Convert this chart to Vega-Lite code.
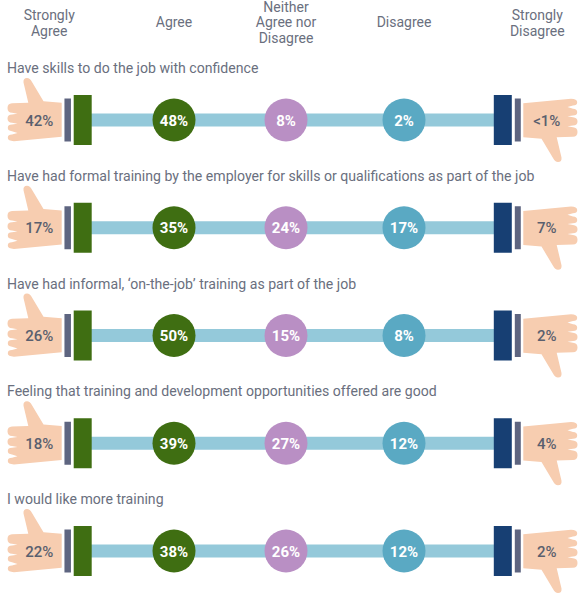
{
  "$schema": "https://vega.github.io/schema/vega-lite/v6.json",
  "width": 584, "height": 598, "padding": 0,
  "autosize": {"type": "fit", "contains": "padding"},
  "background": "#ffffff",
  "config": {"view": {"stroke": null}, "font": "Roboto"},
  "datasets": {
    "cells": [
      {"statement":"Have skills to do the job with confidence","response":"Strongly Agree","rank":1,"label":"42%"},
      {"statement":"Have skills to do the job with confidence","response":"Agree","rank":2,"label":"48%"},
      {"statement":"Have skills to do the job with confidence","response":"Neither","rank":3,"label":"8%"},
      {"statement":"Have skills to do the job with confidence","response":"Disagree","rank":4,"label":"2%"},
      {"statement":"Have skills to do the job with confidence","response":"Strongly Disagree","rank":5,"label":"<1%"},
      {"statement":"Have had formal training by the employer for skills or qualifications as part of the job","response":"Strongly Agree","rank":1,"label":"17%"},
      {"statement":"Have had formal training by the employer for skills or qualifications as part of the job","response":"Agree","rank":2,"label":"35%"},
      {"statement":"Have had formal training by the employer for skills or qualifications as part of the job","response":"Neither","rank":3,"label":"24%"},
      {"statement":"Have had formal training by the employer for skills or qualifications as part of the job","response":"Disagree","rank":4,"label":"17%"},
      {"statement":"Have had formal training by the employer for skills or qualifications as part of the job","response":"Strongly Disagree","rank":5,"label":"7%"},
      {"statement":"Have had informal, ‘on-the-job’ training as part of the job","response":"Strongly Agree","rank":1,"label":"26%"},
      {"statement":"Have had informal, ‘on-the-job’ training as part of the job","response":"Agree","rank":2,"label":"50%"},
      {"statement":"Have had informal, ‘on-the-job’ training as part of the job","response":"Neither","rank":3,"label":"15%"},
      {"statement":"Have had informal, ‘on-the-job’ training as part of the job","response":"Disagree","rank":4,"label":"8%"},
      {"statement":"Have had informal, ‘on-the-job’ training as part of the job","response":"Strongly Disagree","rank":5,"label":"2%"},
      {"statement":"Feeling that training and development opportunities offered are good","response":"Strongly Agree","rank":1,"label":"18%"},
      {"statement":"Feeling that training and development opportunities offered are good","response":"Agree","rank":2,"label":"39%"},
      {"statement":"Feeling that training and development opportunities offered are good","response":"Neither","rank":3,"label":"27%"},
      {"statement":"Feeling that training and development opportunities offered are good","response":"Disagree","rank":4,"label":"12%"},
      {"statement":"Feeling that training and development opportunities offered are good","response":"Strongly Disagree","rank":5,"label":"4%"},
      {"statement":"I would like more training","response":"Strongly Agree","rank":1,"label":"22%"},
      {"statement":"I would like more training","response":"Agree","rank":2,"label":"38%"},
      {"statement":"I would like more training","response":"Neither","rank":3,"label":"26%"},
      {"statement":"I would like more training","response":"Disagree","rank":4,"label":"12%"},
      {"statement":"I would like more training","response":"Strongly Disagree","rank":5,"label":"2%"}
    ],
    "headers": [
      {"response":"Strongly Agree","rank":1,"header":"Strongly\nAgree"},
      {"response":"Agree","rank":2,"header":"Agree"},
      {"response":"Neither","rank":3,"header":"Neither\nAgree nor\nDisagree"},
      {"response":"Disagree","rank":4,"header":"Disagree"},
      {"response":"Strongly Disagree","rank":5,"header":"Strongly\nDisagree"}
    ]
  },
  "data": {"name": "cells"},
  "encoding": {
    "x": {"field": "rank", "type": "quantitative", "axis": null,
      "scale": {"domain": [1,2,3,4,5], "range": [82.7,174,286,404,502.8], "clamp": false, "nice": false, "zero": false}},
    "y": {"field": "statement", "type": "nominal", "axis": null, "sort": null,
      "scale": {"type": "point", "padding": 0, "range": [120,551],
        "domain": ["Have skills to do the job with confidence","Have had formal training by the employer for skills or qualifications as part of the job","Have had informal, ‘on-the-job’ training as part of the job","Feeling that training and development opportunities offered are good","I would like more training"]}}
  },
  "layer": [
    {"mark": {"type": "line", "strokeWidth": 13, "color": "#94c9da", "strokeCap": "butt"},
     "encoding": {"detail": {"field": "statement"}, "order": {"field": "rank"}}},
    {"transform": [{"filter": "datum.rank == 1 || datum.rank == 5"}],
     "mark": {"type": "tick", "size": 50, "thickness": 18, "opacity": 1},
     "encoding": {"color": {"field": "response", "type": "nominal", "legend": null,
       "scale": {"domain": ["Strongly Agree","Agree","Neither","Disagree","Strongly Disagree"], "range": ["#3f6e12","#3f6e12","#b98fc4","#5aa9c3","#173f73"]}}}},
    {"transform": [{"filter": "datum.rank == 1"}],
     "mark": {"type": "tick", "size": 43, "thickness": 6.5, "opacity": 1, "color": "#5e6580", "xOffset": -15}},
    {"transform": [{"filter": "datum.rank == 5"}],
     "mark": {"type": "tick", "size": 43, "thickness": 6, "opacity": 1, "color": "#5e6580", "xOffset": 15}},
    {"transform": [{"filter": "datum.rank > 1 && datum.rank < 5"}],
     "mark": {"type": "point", "shape": "circle", "filled": true, "size": 1849, "opacity": 1},
     "encoding": {"color": {"field": "response", "type": "nominal", "legend": null}}},
    {"transform": [{"filter": "datum.rank == 1"}],
     "mark": {"type": "point", "filled": true, "opacity": 1, "color": "#f7cdb0", "size": 400, "xOffset": -47.7,
       "shape": "M2.67,-1.72 L2.67,1.68 L-2.1,2.12 Q-2.72,2.1 -2.72,1.78 Q-2.72,1.45 -2.3,1.45 L-1.75,1.3 L-2.3,1.12 Q-2.72,1.1 -2.72,0.78 Q-2.72,0.45 -2.3,0.45 L-1.75,0.37 L-2.3,0.28 Q-2.75,0.25 -2.75,-0.15 Q-2.75,-0.55 -2.3,-0.55 L-1.75,-0.62 L-2.3,-0.72 Q-2.75,-0.75 -2.75,-1.2 Q-2.75,-1.65 -2.3,-1.68 L-0.67,-1.72 L-1.15,-3.75 Q-1.2,-4.2 -0.8,-4.2 Q-0.5,-4.2 -0.3,-3.8 L0.85,-1.88 Z"}},
    {"transform": [{"filter": "datum.rank == 5"}],
     "mark": {"type": "point", "filled": true, "opacity": 1, "color": "#f7cdb0", "size": 400, "xOffset": 47.2, "angle": 180,
       "shape": "M2.67,-1.72 L2.67,1.68 L-2.1,2.12 Q-2.72,2.1 -2.72,1.78 Q-2.72,1.45 -2.3,1.45 L-1.75,1.3 L-2.3,1.12 Q-2.72,1.1 -2.72,0.78 Q-2.72,0.45 -2.3,0.45 L-1.75,0.37 L-2.3,0.28 Q-2.75,0.25 -2.75,-0.15 Q-2.75,-0.55 -2.3,-0.55 L-1.75,-0.62 L-2.3,-0.72 Q-2.75,-0.75 -2.75,-1.2 Q-2.75,-1.65 -2.3,-1.68 L-0.67,-1.72 L-1.15,-3.75 Q-1.2,-4.2 -0.8,-4.2 Q-0.5,-4.2 -0.3,-3.8 L0.85,-1.88 Z"}},
    {"transform": [{"filter": "datum.rank == 1"}],
     "mark": {"type": "text", "font": "Roboto", "fontSize": 15, "fontWeight": 500, "color": "#5a5f6e", "xOffset": -43.5, "yOffset": 0.5},
     "encoding": {"text": {"field": "label"}}},
    {"transform": [{"filter": "datum.rank == 5"}],
     "mark": {"type": "text", "font": "Roboto", "fontSize": 15, "fontWeight": 500, "color": "#5a5f6e", "xOffset": 44, "yOffset": 0.5},
     "encoding": {"text": {"field": "label"}}},
    {"transform": [{"filter": "datum.rank > 1 && datum.rank < 5"}],
     "mark": {"type": "text", "font": "Roboto", "fontSize": 15, "fontWeight": 700, "color": "#ffffff", "yOffset": 0.5},
     "encoding": {"text": {"field": "label"}}},
    {"transform": [{"filter": "datum.rank == 1"}],
     "mark": {"type": "text", "font": "Roboto", "fontSize": 14.1, "color": "#6a6f7e", "align": "left", "yOffset": -51},
     "encoding": {"x": {"value": 7}, "text": {"field": "statement"}}},
    {"data": {"name": "headers"}, "transform": [{"filter": "datum.rank == 2 || datum.rank == 4"}],
     "mark": {"type": "text", "font": "Roboto", "fontSize": 14, "color": "#6a6f7e", "baseline": "middle"},
     "encoding": {"y": {"value": 23}, "text": {"field": "header"}}},
    {"data": {"name": "headers"}, "transform": [{"filter": "datum.rank == 3"}],
     "mark": {"type": "text", "font": "Roboto", "fontSize": 14, "color": "#6a6f7e", "lineBreak": "\n", "lineHeight": 15.5, "baseline": "middle"},
     "encoding": {"y": {"value": 7.5}, "text": {"field": "header"}}},
    {"data": {"name": "headers"}, "transform": [{"filter": "datum.rank == 1"}],
     "mark": {"type": "text", "font": "Roboto", "fontSize": 14, "color": "#6a6f7e", "lineBreak": "\n", "lineHeight": 16, "baseline": "middle", "xOffset": -33.5},
     "encoding": {"y": {"value": 16}, "text": {"field": "header"}}},
    {"data": {"name": "headers"}, "transform": [{"filter": "datum.rank == 5"}],
     "mark": {"type": "text", "font": "Roboto", "fontSize": 14, "color": "#6a6f7e", "lineBreak": "\n", "lineHeight": 16, "baseline": "middle", "xOffset": 34.5},
     "encoding": {"y": {"value": 16}, "text": {"field": "header"}}}
  ]
}
